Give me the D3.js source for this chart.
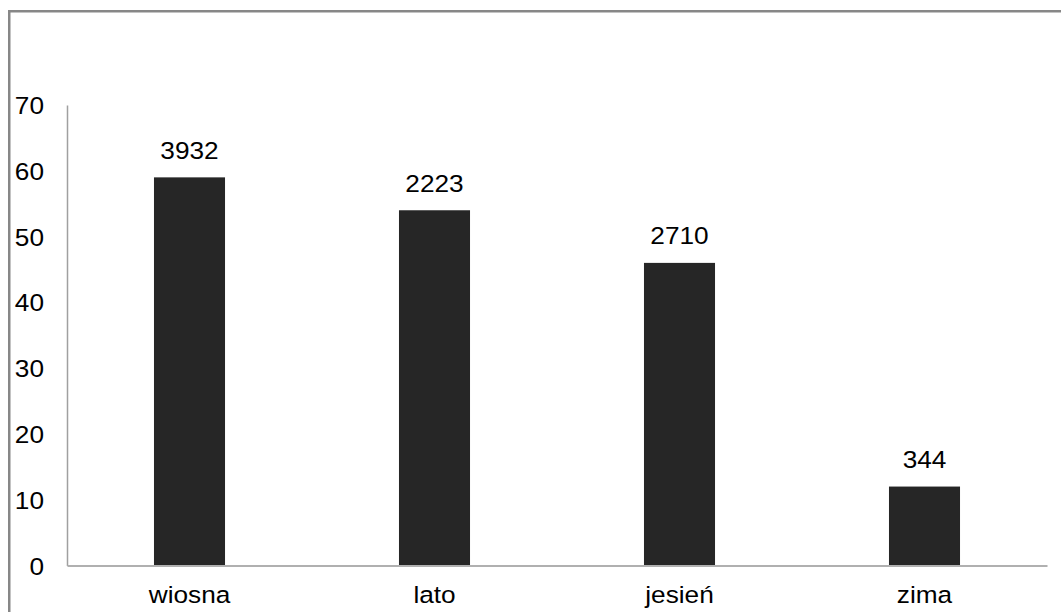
<!DOCTYPE html>
<html>
<head>
<meta charset="utf-8">
<script src="https://cdn.jsdelivr.net/npm/d3@7"></script>
<style>
  html, body { margin: 0; padding: 0; background: #ffffff; }
  svg { display: block; }
  text { font-family: "Liberation Sans", Arial, sans-serif; fill: #000; }
</style>
</head>
<body>
<script>
const categories = ["wiosna", "lato", "jesień", "zima"];
const values = [59, 54, 46, 12];
const barLabels = ["3932", "2223", "2710", "344"];
const yTicks = [0, 10, 20, 30, 40, 50, 60, 70];

const W = 1061, H = 612;
const FS = "24.5px", SX = 1.07;
const svg = d3.select("body").append("svg").attr("width", W).attr("height", H);

// outer border (chart area frame)
svg.append("rect")
  .attr("x", 9.25).attr("y", 11.25)
  .attr("width", W + 20).attr("height", H + 20)
  .attr("fill", "none").attr("stroke", "#878787").attr("stroke-width", 2.5);

const plotLeft = 67, plotRight = 1047, plotTop = 105, plotBottom = 565.5;

const x = d3.scaleBand().domain(categories).range([plotLeft, plotRight])
  .paddingInner(0.71).paddingOuter(0.355);
const y = d3.scaleLinear().domain([0, 70]).range([plotBottom, plotTop]);

// bars
svg.selectAll("rect.bar").data(values).enter().append("rect")
  .attr("class", "bar")
  .attr("x", (d, i) => x(categories[i]))
  .attr("y", d => y(d))
  .attr("width", x.bandwidth())
  .attr("height", d => y(0) - y(d))
  .attr("fill", "#262626");

// bar labels
svg.selectAll("text.bl").data(values).enter().append("text")
  .attr("class", "bl")
  .attr("transform", (d, i) =>
    `translate(${x(categories[i]) + x.bandwidth() / 2},${y(d) - 18.5}) scale(${SX},1)`)
  .attr("text-anchor", "middle")
  .style("font-size", FS)
  .text((d, i) => barLabels[i]);

// y axis
const yAxis = svg.append("g").attr("transform", `translate(${plotLeft},0)`)
  .call(d3.axisLeft(y).tickValues(yTicks).tickSize(0).tickPadding(21.5));
yAxis.select(".domain").attr("stroke", "#a0a0a0").attr("stroke-width", 1.5);
yAxis.selectAll("text").style("font-size", FS)
  .attr("font-family", null).attr("dy", "0.35em")
  .attr("transform", `scale(${SX},1)`);

// x axis
const xAxis = svg.append("g").attr("transform", `translate(0,${plotBottom})`)
  .call(d3.axisBottom(x).tickSize(0).tickPadding(20));
xAxis.select(".domain").attr("stroke", "#b0b0b0").attr("stroke-width", 2);
xAxis.selectAll("text").style("font-size", FS)
  .attr("font-family", null)
  .attr("transform", `scale(${SX},1)`);
</script>
</body>
</html>
